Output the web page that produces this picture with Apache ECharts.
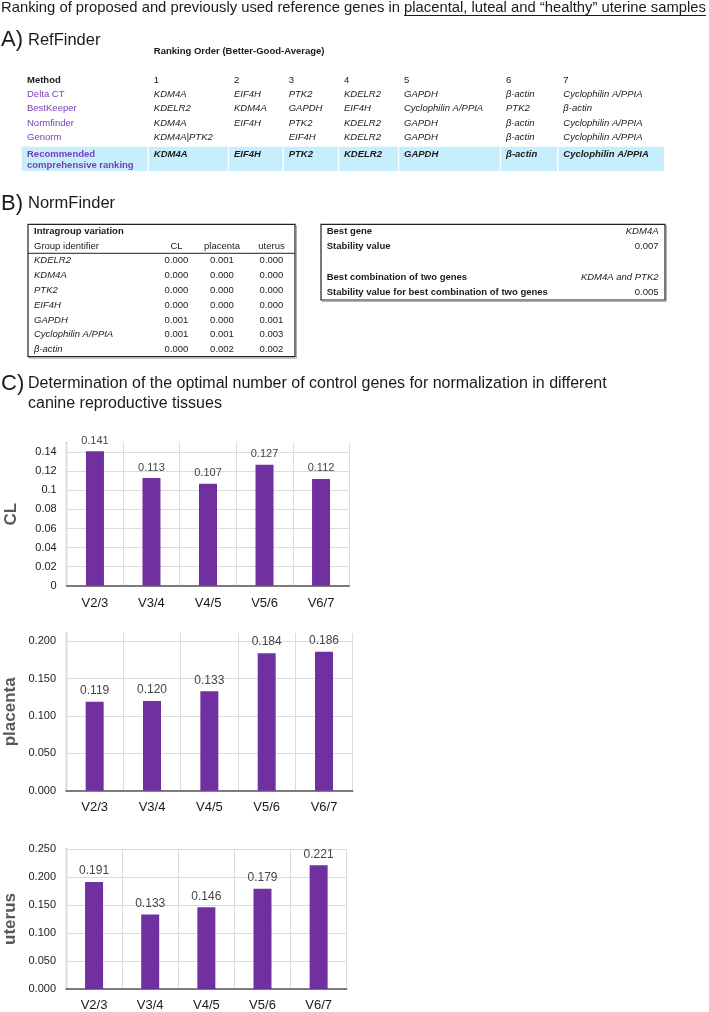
<!DOCTYPE html>
<html>
<head>
<meta charset="utf-8">
<script src="https://cdn.jsdelivr.net/npm/echarts@6/dist/echarts.min.js"></script>
<style>
html,body{margin:0;padding:0;background:#fff;}
#main{width:709px;height:1012px;}
</style>
</head>
<body>
<div id="main"></div>
<script>
// ---------- data ----------
const categories = ['V2/3', 'V3/4', 'V4/5', 'V5/6', 'V6/7'];
const clValues = [0.141, 0.113, 0.107, 0.127, 0.112];
const placentaValues = [0.119, 0.120, 0.133, 0.184, 0.186];
const uterusValues = [0.191, 0.133, 0.146, 0.179, 0.221];

const rankHeader = ['1', '2', '3', '4', '5', '6', '7'];
const refMethods = ['Delta CT', 'BestKeeper', 'Normfinder', 'Genorm'];
const deltaCTRank = ['KDM4A', 'EIF4H', 'PTK2', 'KDELR2', 'GAPDH', 'β-actin', 'Cyclophilin A/PPIA'];
const bestKeeperRank = ['KDELR2', 'KDM4A', 'GAPDH', 'EIF4H', 'Cyclophilin A/PPIA', 'PTK2', 'β-actin'];
const normfinderRank = ['KDM4A', 'EIF4H', 'PTK2', 'KDELR2', 'GAPDH', 'β-actin', 'Cyclophilin A/PPIA'];
const genormRank = ['KDM4A|PTK2', '', 'EIF4H', 'KDELR2', 'GAPDH', 'β-actin', 'Cyclophilin A/PPIA'];
const recommendedRank = ['KDM4A', 'EIF4H', 'PTK2', 'KDELR2', 'GAPDH', 'β-actin', 'Cyclophilin A/PPIA'];

const nfGenes = ['KDELR2', 'KDM4A', 'PTK2', 'EIF4H', 'GAPDH', 'Cyclophilin A/PPIA', 'β-actin'];
const nfCL = ['0.000', '0.000', '0.000', '0.000', '0.001', '0.001', '0.000'];
const nfPlacenta = ['0.001', '0.000', '0.000', '0.000', '0.000', '0.001', '0.002'];
const nfUterus = ['0.000', '0.000', '0.000', '0.000', '0.001', '0.003', '0.002'];
const nfBestLabels = ['Best gene', 'Stability value', 'Best combination of two genes', 'Stability value for best combination of two genes'];
const nfBestValues = ['KDM4A', '0.007', 'KDM4A and PTK2', '0.005'];

// ---------- helpers ----------
const FF = '"Liberation Sans", Arial, Helvetica, sans-serif';
const PURPLE_TXT = '#7b3bb6';
const els = [];
function txt(x, y, s, font, opt) {
  els.push({
    type: 'text', x: x, y: y, silent: true, z: 10,
    style: Object.assign({
      text: s, font: font + ' ' + FF, fill: '#1a1a1a',
      textAlign: 'left', textVerticalAlign: 'middle'
    }, opt || {})
  });
}
function rect(x, y, w, h, style, z) {
  els.push({ type: 'rect', silent: true, z: z || 1, shape: { x: x, y: y, width: w, height: h }, style: style });
}
function line(x1, y1, x2, y2, stroke, lw, z) {
  els.push({ type: 'line', silent: true, z: z || 5, shape: { x1: x1, y1: y1, x2: x2, y2: y2 }, style: { stroke: stroke, lineWidth: lw } });
}
function measure(font, s) {
  const c = document.createElement('canvas').getContext('2d');
  c.font = font + ' ' + FF;
  return c.measureText(s).width;
}

// ---------- title ----------
const titleA = 'Ranking of proposed and previously used reference genes in ';
const titleB = 'placental, luteal and \u201chealthy\u201d uterine samples';
const tFont = '14.8px';
const wA = measure(tFont, titleA);
const wB = measure(tFont, titleB);
txt(1, 8, titleA + titleB, tFont);
line(1 + wA, 15.5, 1 + wA + wB, 15.5, '#1a1a1a', 1);

// ---------- A) RefFinder ----------
txt(1, 40, 'A)', '22px');
txt(28, 40, 'RefFinder', '16.5px');
txt(153.8, 51.7, 'Ranking Order (Better-Good-Average)', 'bold 9.5px');
const colX = [153.8, 234, 288.7, 344, 404, 506, 563.3];
txt(27, 80, 'Method', 'bold 9.5px');
rankHeader.forEach((h, i) => txt(colX[i], 80, h, '9.5px'));
const refRows = [deltaCTRank, bestKeeperRank, normfinderRank, genormRank];
const refY = [94.3, 108.6, 123, 137.6];
refRows.forEach((row, r) => {
  txt(27, refY[r], refMethods[r], '9.5px', { fill: PURPLE_TXT });
  row.forEach((g, i) => { if (g) txt(colX[i], refY[r], g, 'italic 9.5px'); });
});
// highlighted recommended row
rect(21.7, 146.7, 642.3, 24.3, { fill: '#c7eefc' }, 1);
colX.forEach(x => line(x - 5.5, 146.7, x - 5.5, 171, '#ffffff', 1.5, 2));
txt(27, 154, 'Recommended', 'bold 9.5px', { fill: PURPLE_TXT });
txt(27, 165, 'comprehensive ranking', 'bold 9.5px', { fill: PURPLE_TXT });
recommendedRank.forEach((g, i) => txt(colX[i], 154, g, 'italic bold 9.5px'));

// ---------- B) NormFinder ----------
txt(1, 203.5, 'B)', '22px');
txt(28, 203.5, 'NormFinder', '16.5px');
// left table
rect(29.5, 225.8, 267, 132.4, { fill: 'none', stroke: '#b0b0b0', lineWidth: 1 }, 2);
rect(28, 224.3, 267, 132.4, { fill: '#fff', stroke: '#222', lineWidth: 1.2 }, 3);
txt(34, 231.7, 'Intragroup variation', 'bold 9.5px');
txt(34, 246.7, 'Group identifier', '9.5px');
const nfColX = [176.5, 222, 271.5];
txt(nfColX[0], 246.7, 'CL', '9.5px', { textAlign: 'center' });
txt(nfColX[1], 246.7, 'placenta', '9.5px', { textAlign: 'center' });
txt(nfColX[2], 246.7, 'uterus', '9.5px', { textAlign: 'center' });
line(28, 253.3, 295, 253.3, '#222', 1, 6);
nfGenes.forEach((g, i) => {
  const y = 260.7 + i * 14.83;
  txt(34, y, g, 'italic 9.5px');
  txt(nfColX[0], y, nfCL[i], '9.5px', { textAlign: 'center' });
  txt(nfColX[1], y, nfPlacenta[i], '9.5px', { textAlign: 'center' });
  txt(nfColX[2], y, nfUterus[i], '9.5px', { textAlign: 'center' });
});
// right table
rect(322.5, 225.8, 344, 75.7, { fill: 'none', stroke: '#b0b0b0', lineWidth: 1 }, 2);
rect(321, 224.3, 344, 75.7, { fill: '#fff', stroke: '#222', lineWidth: 1.2 }, 3);
const bestY = [231.7, 246.7, 277.7, 292.7];
nfBestLabels.forEach((l, i) => {
  txt(326.7, bestY[i], l, 'bold 9.5px');
  const it = (i === 0 || i === 2) ? 'italic 9.5px' : '9.5px';
  txt(658.5, bestY[i], nfBestValues[i], it, { textAlign: 'right' });
});

// ---------- C) ----------
txt(1, 383.5, 'C)', '22px');
txt(28, 383.5, 'Determination of the optimal number of control genes for normalization in different', '16px');
txt(28, 403.5, 'canine reproductive tissues', '16px');

// ---------- charts ----------
const grids = [
  { left: 66.7, top: 442.7, width: 282.6, height: 143 },
  { left: 66, top: 633, width: 286.7, height: 157.7 },
  { left: 66, top: 849, width: 280.7, height: 141 }
];
const yNames = ['CL', 'placenta', 'uterus'];
const yMax = [0.15, 0.211, 0.25];
const yInterval = [0.02, 0.05, 0.05];
const yFmt = [v => String(+v.toFixed(2)), v => v.toFixed(3), v => v.toFixed(3)];
const seriesData = [clValues, placentaValues, uterusValues];
const xMargin = [11, 10, 10];
const valLabelSize = [11, 12, 12];

const option = {
  animation: false,
  backgroundColor: '#ffffff',
  grid: grids.map(g => Object.assign({ containLabel: false }, g)),
  xAxis: grids.map((g, i) => ({
    type: 'category', gridIndex: i, data: categories, boundaryGap: true,
    axisTick: { show: false },
    axisLine: { show: true, lineStyle: { color: '#555', width: 1.5 } },
    axisLabel: { fontSize: 13, color: '#1a1a1a', margin: xMargin[i], fontFamily: FF },
    splitLine: { show: true, lineStyle: { color: '#dcdcdc', width: 1 } },
    z: 3
  })),
  yAxis: grids.map((g, i) => ({
    type: 'value', gridIndex: i, min: 0, max: yMax[i], interval: yInterval[i],
    name: yNames[i], nameLocation: 'middle', nameGap: 47, nameRotate: 90,
    nameTextStyle: { fontSize: 17, fontWeight: 'bold', color: '#595959', fontFamily: FF },
    axisLine: { show: true, lineStyle: { color: '#8a8a8a', width: 1.3 } },
    axisTick: { show: false },
    axisLabel: { fontSize: 11, color: '#1a1a1a', margin: 10, fontFamily: FF, formatter: yFmt[i], showMaxLabel: i === 2 },
    splitLine: { show: true, showMaxLine: i === 2, lineStyle: { color: '#dcdcdc', width: 1 } }
  })),
  series: seriesData.map((d, i) => ({
    type: 'bar', xAxisIndex: i, yAxisIndex: i, data: d, barWidth: 18,
    itemStyle: { color: '#7030a0' },
    label: { show: true, position: 'top', distance: 5, fontSize: valLabelSize[i], color: '#444', fontFamily: FF,
      formatter: p => p.value.toFixed(3) },
    z: 4
  })),
  graphic: { elements: els }
};

const chart = echarts.init(document.getElementById('main'), null, { renderer: 'canvas' });
chart.setOption(option);
</script>
</body>
</html>
